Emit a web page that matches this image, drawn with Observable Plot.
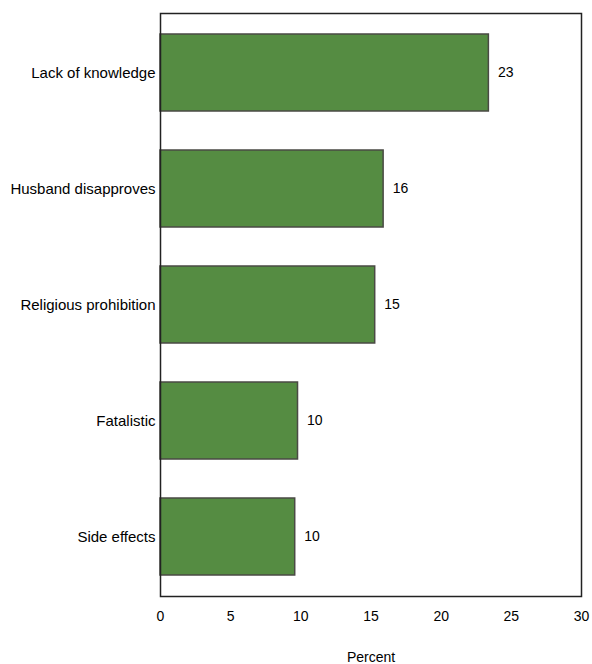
<!DOCTYPE html>
<html>
<head>
<meta charset="utf-8">
<script src="https://cdn.jsdelivr.net/npm/d3@7"></script>
<script src="https://cdn.jsdelivr.net/npm/@observablehq/plot@0.6"></script>
<style>
  body { margin: 0; background: #fff; }
</style>
</head>
<body>
<div id="chart"></div>
<script>
const reasons = ["Lack of knowledge", "Husband disapproves", "Religious prohibition", "Fatalistic", "Side effects"];
const percents = [23.4, 15.9, 15.3, 9.8, 9.6];
const xTicks = [0, 5, 10, 15, 20, 25, 30];

const data = reasons.map((r, i) => ({reason: r, value: percents[i]}));

const chart = Plot.plot({
  width: 592,
  height: 664,
  marginLeft: 160,
  marginRight: 11,
  marginTop: 13,
  marginBottom: 68,
  style: {fontSize: "14px", fontFamily: "'Liberation Sans', Arial, sans-serif", color: "#000"},
  x: {domain: [0, 30]},
  y: {domain: reasons, paddingInner: 0.34, paddingOuter: 0.17},
  marks: [
    Plot.barX(data, {x: "value", y: "reason", fill: "#558c42", stroke: "#4a4a44", strokeWidth: 1.5}),
    Plot.text(data, {x: "value", y: "reason", text: d => d3.format(".0f")(d.value), dx: 9, textAnchor: "start", fontSize: 14, fill: "#000"}),
    Plot.frame({stroke: "#222", strokeWidth: 1.5}),
    Plot.axisX({ticks: xTicks, tickSize: 0, tickPadding: 15, label: "Percent", labelAnchor: "center", labelArrow: "none", labelOffset: 65, fontSize: 14}),
    Plot.axisY({tickSize: 0, tickPadding: 5, label: null, fontSize: 15})
  ]
});
document.getElementById("chart").appendChild(chart);
</script>
</body>
</html>
